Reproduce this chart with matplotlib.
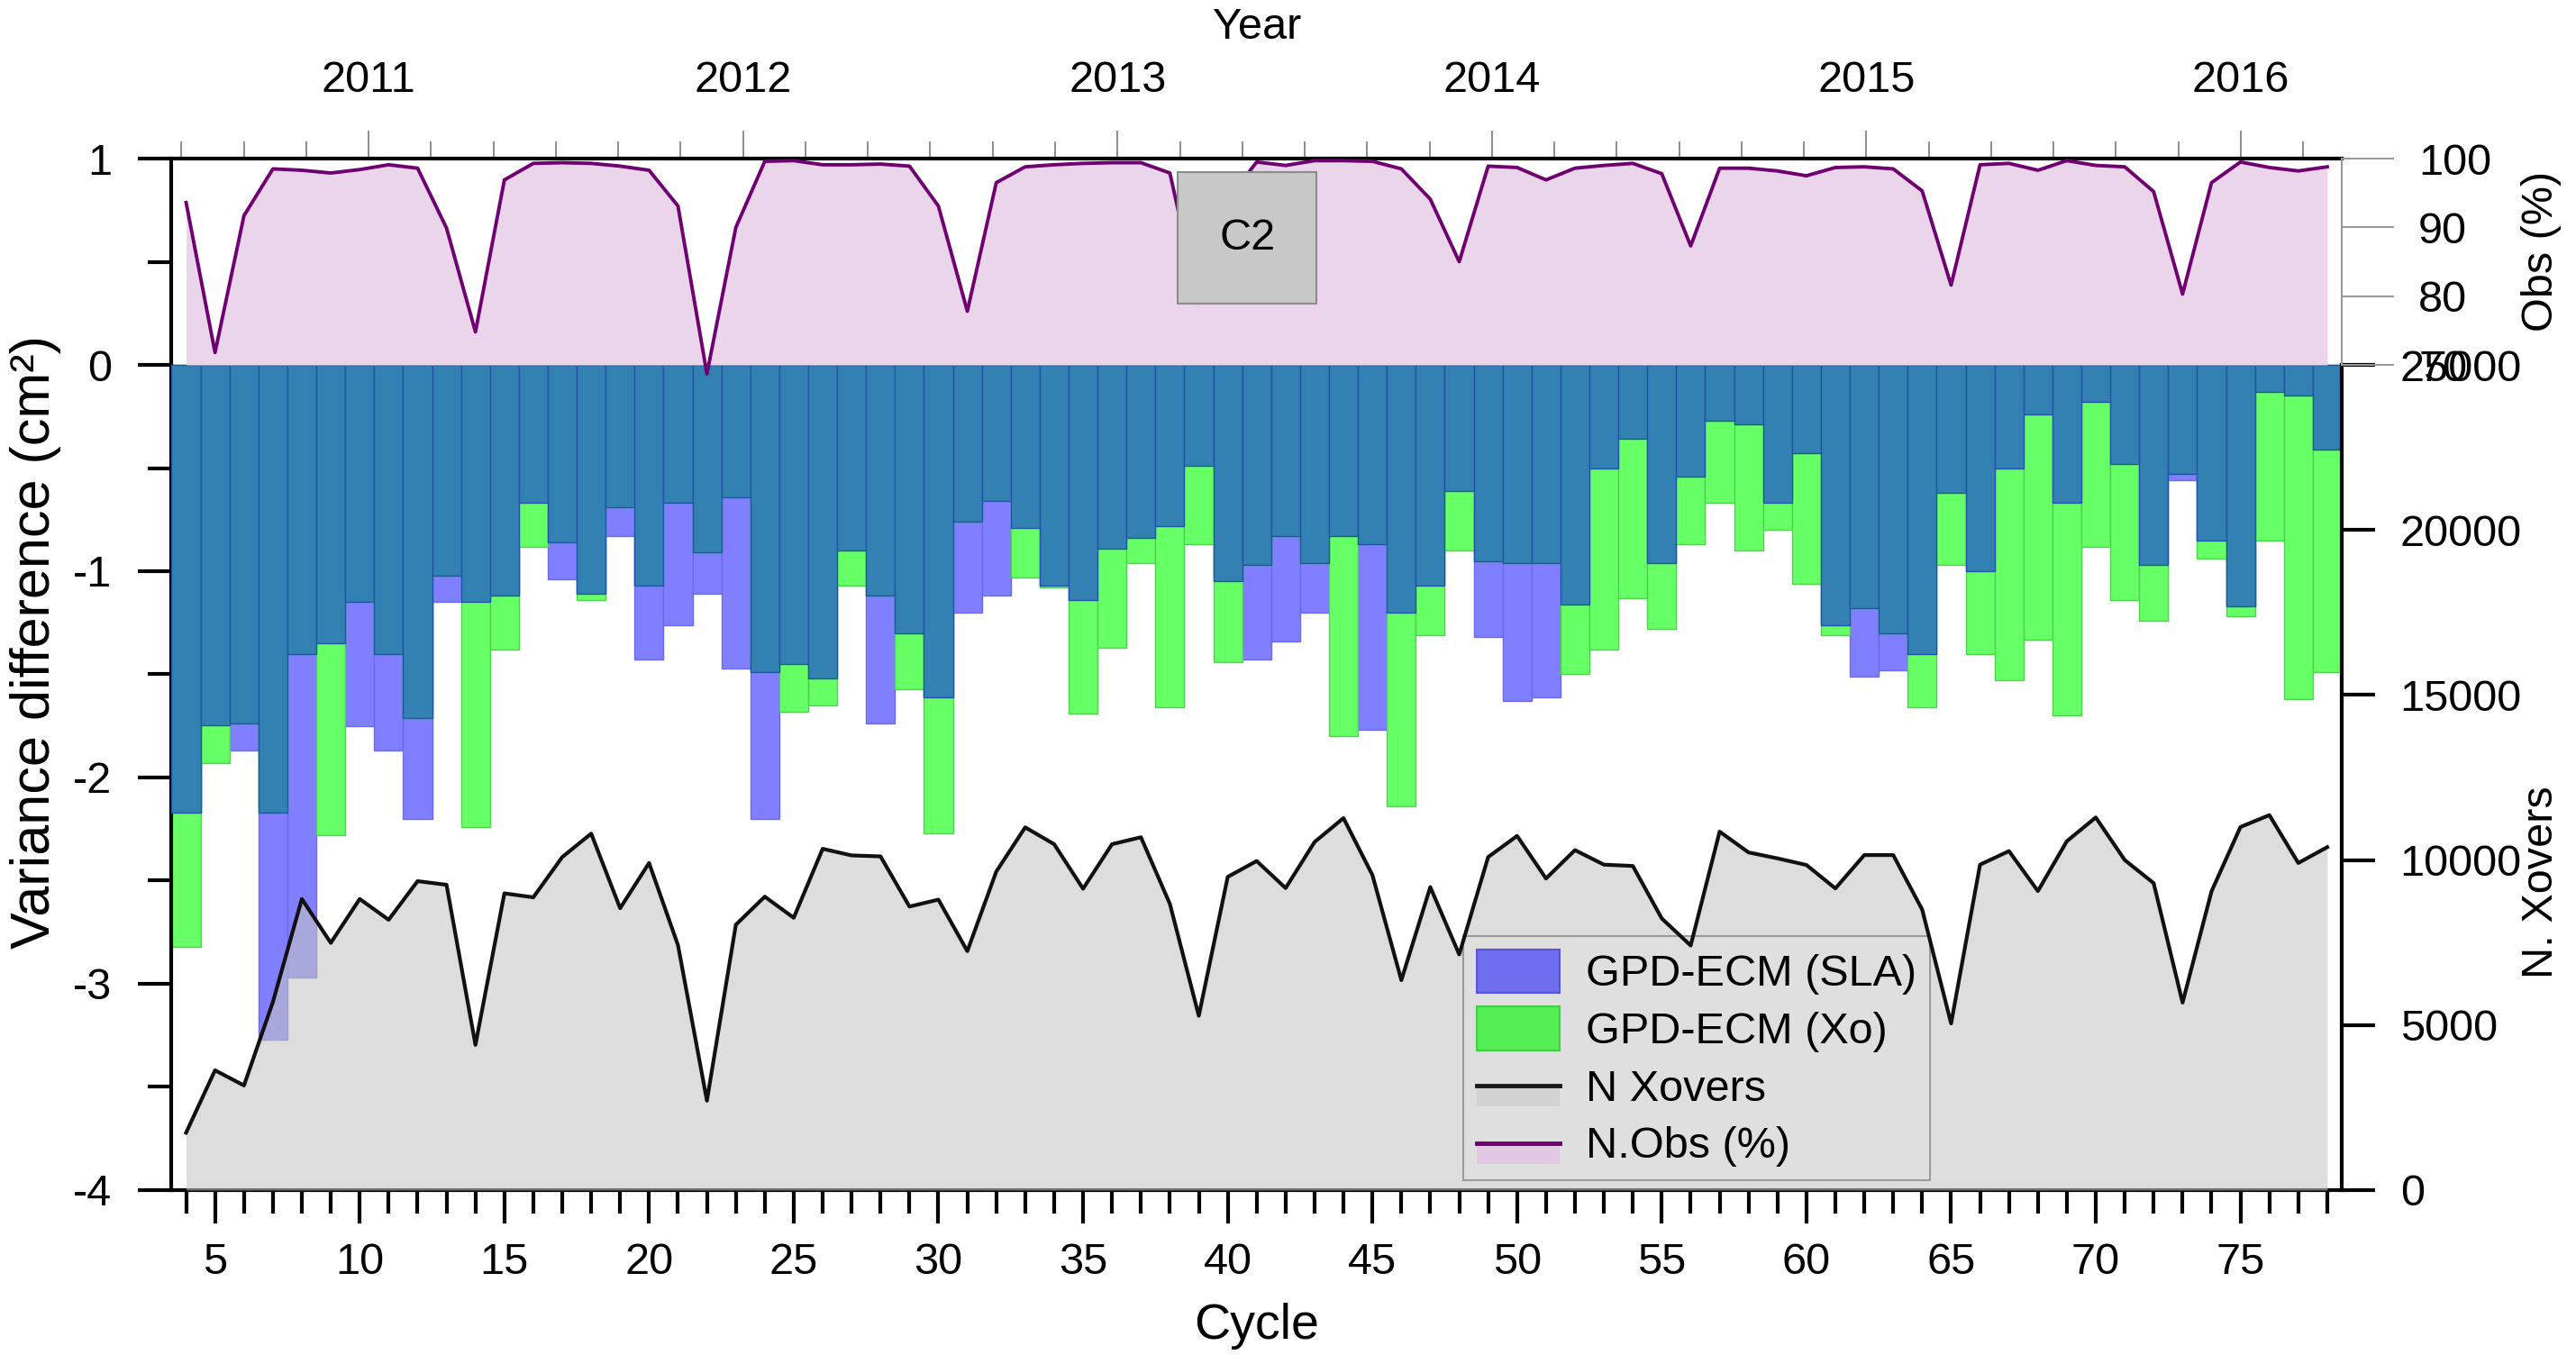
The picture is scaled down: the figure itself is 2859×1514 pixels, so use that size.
import numpy as np
import matplotlib
matplotlib.use('Agg')
import matplotlib.pyplot as plt
from matplotlib.patches import Rectangle, Patch
from matplotlib.lines import Line2D
from matplotlib.legend_handler import HandlerBase
from matplotlib.ticker import MultipleLocator, FixedLocator

plt.rcParams['font.family'] = ['Liberation Sans', 'DejaVu Sans']
plt.rcParams['axes.unicode_minus'] = False

# ---------------- data ----------------
cycles = np.arange(4, 79)

sla = [-2.17, -1.745, -1.87, -3.27, -2.97, -1.35, -1.75, -1.87, -2.20, -1.15,
       -1.15, -1.12, -0.67, -1.04, -1.11, -0.83, -1.43, -1.26, -1.11, -1.47,
       -2.20, -1.45, -1.52, -0.90, -1.74, -1.30, -1.61, -1.20, -1.12, -0.79,
       -1.07, -1.14, -0.89, -0.84, -0.78, -0.49, -1.05, -1.43, -1.34, -1.20,
       -0.83, -1.77, -1.20, -1.07, -0.61, -1.32, -1.63, -1.61, -1.16, -0.50,
       -0.36, -0.96, -0.54, -0.27, -0.29, -0.67, -0.43, -1.26, -1.51, -1.48,
       -1.40, -0.62, -1.00, -0.50, -0.24, -0.67, -0.18, -0.48, -0.97, -0.56,
       -0.85, -1.17, -0.13, -0.15, -0.41]

xo = [-2.82, -1.93, -1.736, -2.17, -1.40, -2.28, -1.15, -1.40, -1.71, -1.02,
      -2.24, -1.38, -0.88, -0.86, -1.14, -0.69, -1.07, -0.67, -0.91, -0.64,
      -1.49, -1.68, -1.65, -1.07, -1.12, -1.57, -2.27, -0.76, -0.66, -1.03,
      -1.08, -1.69, -1.37, -0.96, -1.66, -0.87, -1.44, -0.97, -0.83, -0.96,
      -1.80, -0.87, -2.14, -1.31, -0.90, -0.95, -0.96, -0.96, -1.50, -1.38,
      -1.13, -1.28, -0.87, -0.67, -0.90, -0.80, -1.06, -1.31, -1.18, -1.30,
      -1.66, -0.97, -1.40, -1.53, -1.33, -1.70, -0.88, -1.14, -1.24, -0.53,
      -0.94, -1.22, -0.85, -1.62, -1.49]

xovers = [1740, 3630, 3170, 5700, 8820, 7490, 8820, 8190, 9360, 9250,
          4400, 8990, 8870, 10090, 10800, 8540, 9910, 7420, 2710, 8040,
          8890, 8250, 10340, 10140, 10110, 8590, 8800, 7240, 9650, 10990,
          10480, 9130, 10480, 10690, 8670, 5280, 9490, 9970, 9150, 10545,
          11270, 9545, 6360, 9180, 7140, 10090, 10730, 9440, 10300, 9860,
          9820, 8230, 7410, 10860, 10230, 10050, 9850, 9140, 10150, 10150,
          8500, 5050, 9860, 10270, 9060, 10570, 11290, 10000, 9300, 5680,
          9050, 11000, 11360, 9910, 10390]

obs = [93.6, 71.8, 91.7, 98.5, 98.3, 97.9, 98.4, 99.1, 98.6, 89.9,
       74.8, 96.9, 99.3, 99.4, 99.3, 98.9, 98.3, 93.1, 68.7, 90.0,
       99.6, 99.7, 99.1, 99.1, 99.2, 98.9, 93.1, 77.8, 96.5, 98.8,
       99.1, 99.3, 99.4, 99.4, 97.9, 79.0, 94.0, 99.5, 99.0, 99.7,
       99.7, 99.6, 98.5, 94.1, 85.0, 98.9, 98.7, 96.9, 98.6, 99.0,
       99.3, 97.8, 87.3, 98.6, 98.6, 98.2, 97.5, 98.7, 98.8, 98.5,
       95.3, 81.6, 99.1, 99.3, 98.3, 99.7, 99.0, 98.8, 95.2, 80.3,
       96.5, 99.5, 98.7, 98.2, 98.8]

year_ticks = [2011, 2012, 2013, 2014, 2015, 2016]
var_ticks = [-4, -3, -2, -1, 0, 1]
xover_ticks = [0, 5000, 10000, 15000, 20000, 25000]
obs_ticks = [70, 80, 90, 100]
cycle_ticks = [5, 10, 15, 20, 25, 30, 35, 40, 45, 50, 55, 60, 65, 70, 75]

labels = ['GPD-ECM (SLA)', 'GPD-ECM (Xo)', 'N Xovers', 'N.Obs (%)']

# cycle <-> year relation for the top axis
CYC_2011 = 10.31
CYC_PER_YEAR = 12.94


def cyc2yr(c):
    return 2011 + (np.asarray(c, dtype=float) - CYC_2011) / CYC_PER_YEAR


def yr2cyc(y):
    return CYC_2011 + (np.asarray(y, dtype=float) - 2011) * CYC_PER_YEAR


sla = np.array(sla)
xo = np.array(xo)
overlap = np.maximum(sla, xo)

# ---------------- figure ----------------
fig = plt.figure(figsize=(28.59, 15.14), dpi=100)
ax = fig.add_axes([0.06663, 0.12748, 0.84242, 0.75627])

C_SLA = '#7F7FFF'
C_XO = '#66FF66'
C_BOTH = '#3380B2'

ax.bar(cycles, sla, width=1.0, color=C_SLA, edgecolor='#6A6AEA', linewidth=1.0, zorder=2)
ax.bar(cycles, xo, width=1.0, color=C_XO, edgecolor='#4FD24F', linewidth=1.0, zorder=2)
ax.bar(cycles, overlap, width=1.0, color=C_BOTH, edgecolor='#1F55A5', linewidth=1.0, zorder=3)

ax.set_xlim(3.5, 78.5)
ax.set_ylim(-4, 1)
ax.xaxis.set_major_locator(FixedLocator(cycle_ticks))
ax.xaxis.set_minor_locator(MultipleLocator(1))
ax.yaxis.set_major_locator(FixedLocator(var_ticks))
ax.yaxis.set_minor_locator(MultipleLocator(0.5))
ax.set_yticklabels([str(v) for v in var_ticks])

ax.tick_params(axis='x', which='major', direction='out', length=26.6, width=3,
               labelsize=35, pad=15, top=False)
ax.tick_params(axis='x', which='minor', direction='out', length=18.5, width=3, top=False)
ax.tick_params(axis='y', which='major', direction='out', length=26.6, width=3,
               labelsize=35, pad=21, right=False)
ax.tick_params(axis='y', which='minor', direction='out', length=18.7, width=3, right=False)
for s in ['left', 'bottom', 'top']:
    ax.spines[s].set_linewidth(3)
    ax.spines[s].set_color('black')
ax.spines['right'].set_visible(False)

# ---------------- top year axis ----------------
secax = ax.secondary_xaxis('top', functions=(cyc2yr, yr2cyc))
secax.xaxis.set_major_locator(FixedLocator(year_ticks))
secax.xaxis.set_minor_locator(MultipleLocator(1 / 6))
secax.set_xticklabels([str(y) for y in year_ticks])
secax.tick_params(axis='x', which='major', direction='out', length=22.3, width=1.2,
                  color='#7A7A7A', labelsize=35, pad=24)
secax.tick_params(axis='x', which='minor', direction='out', length=13.7, width=1.2,
                  color='#7A7A7A')
secax.spines['top'].set_visible(False)

# ---------------- N xovers axis ----------------
ax2 = ax.twinx()
ax2.set_ylim(0, 31250)
ax2.yaxis.set_major_locator(FixedLocator(xover_ticks))
ax2.set_yticklabels([str(v) for v in xover_ticks])
ax2.tick_params(axis='y', which='major', direction='out', length=26.6, width=3,
                labelsize=35, pad=20)
for s in ['left', 'bottom', 'top']:
    ax2.spines[s].set_visible(False)
ax2.spines['right'].set_bounds(0, 25000)
ax2.spines['right'].set_linewidth(3)
ax2.spines['right'].set_color('black')

ax2.fill_between(cycles, xovers, 0, color='#C6C6C6', alpha=0.58, linewidth=0, zorder=1)
ax2.plot(cycles, xovers, color='#111111', linewidth=3.0, zorder=2)

# ---------------- obs % axis ----------------
ax3 = ax.twinx()
ax3.set_ylim(-50, 100)
ax3.yaxis.set_major_locator(FixedLocator(obs_ticks))
ax3.set_yticklabels([str(v) for v in obs_ticks])
ax3.tick_params(axis='y', which='major', direction='out', length=41.8, width=1.5,
                color='#9A9A9A', labelcolor='black', labelsize=35, pad=19.5)
for s in ['left', 'bottom', 'top']:
    ax3.spines[s].set_visible(False)
ax3.spines['right'].set_bounds(70, 100)
ax3.spines['right'].set_linewidth(1.5)
ax3.spines['right'].set_color('#9A9A9A')

ax3.fill_between(cycles, obs, 70, color='#EAD5EA', linewidth=0, zorder=1)
ax3.plot(cycles, obs, color='#6E0070', linewidth=2.8, zorder=2)

# C2 box
ax3.add_patch(Rectangle((0.4636, 0.8594), 0.0639, 0.1275, transform=ax.transAxes,
                        facecolor='#C8C8C8', edgecolor='#8C8C8C', linewidth=1.5,
                        zorder=10, clip_on=False))
ax3.text(0.4956, 0.923, 'C2', transform=ax.transAxes, ha='center', va='center',
         fontsize=35, zorder=11)

# ---------------- axis labels ----------------
ax.text(-0.0625, 0.531, 'Variance difference (cm²)', transform=ax.transAxes,
        rotation=90, ha='center', va='center', fontsize=44)
ax.text(0.5, -0.132, 'Cycle', transform=ax.transAxes, ha='center', va='center', fontsize=40)
ax.text(0.5, 1.1275, 'Year', transform=ax.transAxes, ha='center', va='center', fontsize=35)
ax.text(1.092, 0.91, 'Obs (%)', transform=ax.transAxes, rotation=90,
        ha='center', va='center', fontsize=35)
ax.text(1.092, 0.2987, 'N. Xovers', transform=ax.transAxes, rotation=90,
        ha='center', va='center', fontsize=35)


# ---------------- legend ----------------
class FillLineHandler(HandlerBase):
    def __init__(self, line_color, fill_color, lw):
        super().__init__()
        self.lc = line_color
        self.fc = fill_color
        self.lw = lw

    def create_artists(self, legend, orig_handle, xdescent, ydescent, width,
                       height, fontsize, trans):
        x0, y0 = -xdescent, -ydescent
        rect = Rectangle((x0, y0 + 0.02 * height), width, 0.44 * height,
                         facecolor=self.fc, edgecolor='none', transform=trans)
        line = Line2D([x0, x0 + width], [y0 + 0.5 * height] * 2, color=self.lc,
                      linewidth=self.lw, transform=trans)
        return [rect, line]


h_sla = Patch(facecolor='#6E6EEE', edgecolor='#5555DD', linewidth=1.5)
h_xo = Patch(facecolor='#55EE55', edgecolor='#44CC44', linewidth=1.5)
h_xov = Line2D([], [], color='black')
h_obs = Line2D([], [], color='#6E0070')

leg = ax2.legend([h_sla, h_xo, h_xov, h_obs], labels,
                 handler_map={h_xov: FillLineHandler('#1A1A1A', '#D2D2D2', 3.5),
                              h_obs: FillLineHandler('#6E0070', '#E2C8E2', 3.5)},
                 loc='lower left', bbox_to_anchor=(0.5952, 0.0096), fontsize=35,
                 frameon=True, fancybox=False, framealpha=1, handlelength=1.9,
                 handleheight=1.15, handletextpad=0.6, labelspacing=0.27,
                 borderpad=0.3, borderaxespad=0)
leg.get_frame().set_facecolor('#DFDFDF')
leg.get_frame().set_edgecolor('#9A9A9A')
leg.get_frame().set_linewidth(1.5)
leg.set_zorder(1.5)

fig.savefig('out.png', dpi=100)
